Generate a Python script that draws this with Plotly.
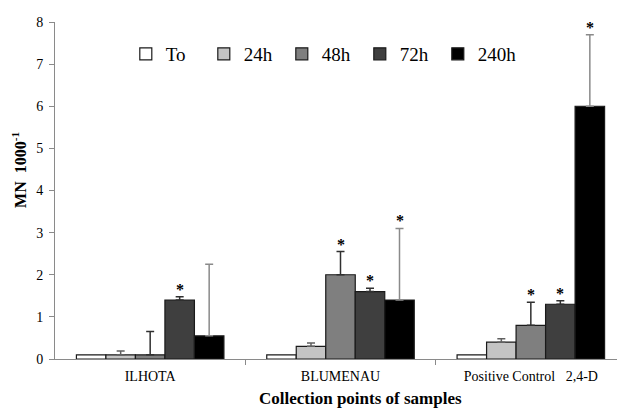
import plotly.graph_objects as go

categories = ["ILHOTA", "BLUMENAU", "Positive Control   2,4-D"]
series_names = ["To", "24h", "48h", "72h", "240h"]
values = {
    "To":   [0.1, 0.1, 0.1],
    "24h":  [0.1, 0.3, 0.4],
    "48h":  [0.1, 2.0, 0.8],
    "72h":  [1.4, 1.6, 1.3],
    "240h": [0.55, 1.4, 6.0],
}
errors = {
    "To":   [0.0, 0.0, 0.0],
    "24h":  [0.09, 0.08, 0.08],
    "48h":  [0.55, 0.55, 0.55],
    "72h":  [0.08, 0.08, 0.08],
    "240h": [1.7, 1.7, 1.7],
}
significant = {
    "To":   [False, False, False],
    "24h":  [False, False, False],
    "48h":  [False, True, True],
    "72h":  [True, True, True],
    "240h": [False, True, True],
}
x_title = "Collection points of samples"
y_title = "MN  1000<sup>-1</sup>"

fill_colors = ["#ffffff", "#c4c4c4", "#7f7f7f", "#3f3f3f", "#000000"]
err_colors = ["#404040", "#606060", "#303030", "#303030", "#8a8a8a"]

FONT = "Liberation Serif"
bar_w = 0.155

fig = go.Figure()
annotations = []
for i, name in enumerate(series_names):
    off = (i - 2) * bar_w
    xs = [k + off for k in range(len(categories))]
    fig.add_trace(go.Bar(
        x=xs, y=values[name], width=bar_w, name=name,
        marker=dict(color=fill_colors[i], line=dict(color="#1a1a1a", width=1.2)),
        error_y=dict(type="data", array=errors[name], arrayminus=[0]*3, symmetric=False,
                     color=err_colors[i], thickness=1.5, width=4,
                     visible=any(e > 0 for e in errors[name])),
    ))
    for k in range(len(categories)):
        if significant[name][k]:
            annotations.append(dict(
                x=xs[k], y=values[name][k] + errors[name][k], xref="x", yref="y",
                text="<b>*</b>", showarrow=False, yanchor="bottom", yshift=-3,
                font=dict(family=FONT, size=16, color="black")))

annotations.append(dict(
    text="<b>" + x_title + "</b>", xref="paper", yref="paper", x=0.535, y=-0.117,
    xanchor="center", yanchor="middle", showarrow=False,
    font=dict(family=FONT, size=17, color="black")))
annotations.append(dict(
    text="<b>" + y_title + "</b>", xref="paper", yref="paper", x=-0.062, y=0.56,
    xanchor="center", yanchor="middle", showarrow=False, textangle=-90,
    font=dict(family=FONT, size=16, color="black")))

fig.update_layout(
    width=625, height=409,
    margin=dict(l=47, r=7, t=8, b=58),
    paper_bgcolor="white", plot_bgcolor="white",
    barmode="overlay",
    font=dict(family=FONT, color="black", size=14),
    showlegend=True,
    legend=dict(orientation="h", x=0.124, xanchor="left", y=0.905, yanchor="middle",
                font=dict(family=FONT, size=19, color="black"), bgcolor="rgba(0,0,0,0)",
                entrywidth=33, entrywidthmode="pixels", itemwidth=30, traceorder="normal"),
    annotations=annotations,
)
fig.update_xaxes(
    range=[-0.5, 2.5], tickmode="array", tickvals=[0, 1, 2], ticktext=categories,
    ticks="", showline=True, linecolor="#8a8a8a", linewidth=1, showgrid=False, zeroline=False,
    tickfont=dict(family=FONT, size=14, color="black"), ticklabelstandoff=4,
    minor=dict(tickmode="array", tickvals=[0.5, 1.5], ticks="outside", ticklen=5, tickcolor="#8a8a8a"),
)
fig.update_yaxes(
    range=[0, 8], dtick=1, ticks="outside", ticklen=5, tickcolor="#8a8a8a",
    showline=True, linecolor="#8a8a8a", linewidth=1, showgrid=False, zeroline=False,
    tickfont=dict(family=FONT, size=14, color="black"), ticklabelstandoff=3,
)

fig.write_html("out.html")
